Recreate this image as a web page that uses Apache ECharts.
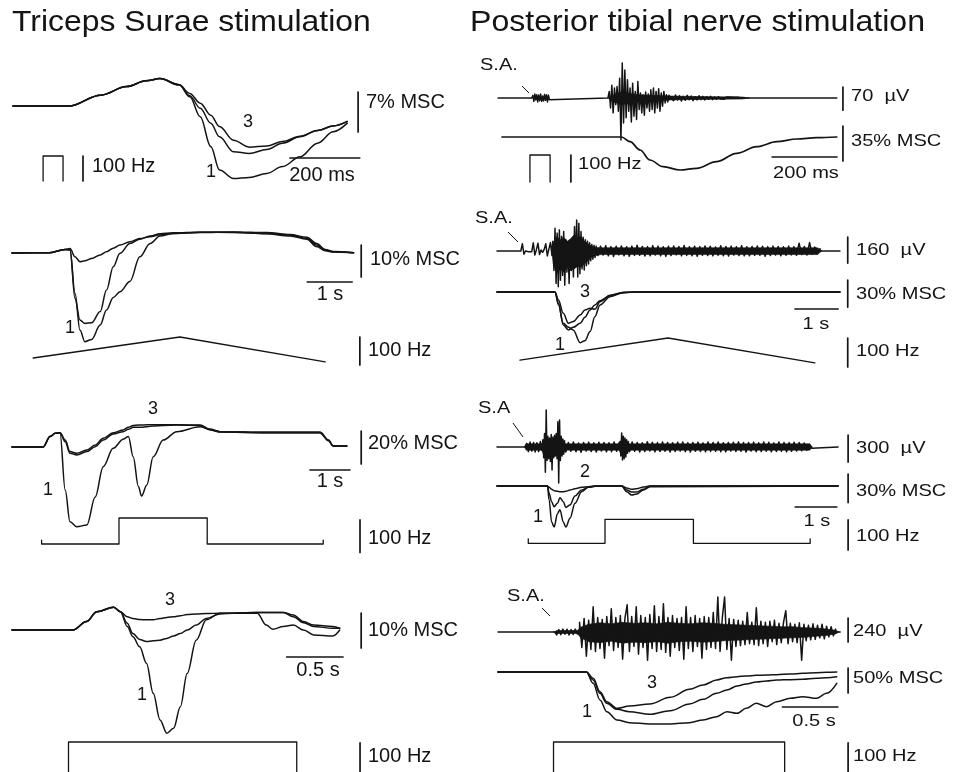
<!DOCTYPE html>
<html><head><meta charset="utf-8">
<script src="https://cdn.jsdelivr.net/npm/echarts/dist/echarts.min.js"></script>
<style>html,body{margin:0;padding:0;background:#fff}#c{width:954px;height:772px}</style>
</head><body><div id="c"></div><script>
// ===================== DATA =====================
// Panel A1 (Triceps surae, brief train) — time ms, force %MSC
const a1T  = [0,160,250,325,380,420,475,505,535,565,590,630,675,725,770,820,870,915,955];
const a1F1 = [0,0,1.9,3.4,4.4,4.8,3.7,1.6,-1.9,-7.1,-11.2,-12.7,-12.5,-11.8,-10.6,-8.9,-6.5,-4.5,-3.0];
const a1F2 = [0,0,1.9,3.4,4.4,4.8,3.7,1.8,-0.4,-3.0,-5.4,-8.0,-8.3,-7.6,-6.5,-5.4,-4.3,-3.5,-2.7];
const a1F3 = [0,0,1.9,3.4,4.4,4.8,3.7,2.2,0.5,-1.6,-3.6,-6.0,-7.2,-7.0,-6.2,-5.3,-4.3,-3.5,-2.7];
const a1StimT = [86,86,143,143];
const a1StimHz = [0,100,100,0];
// Panel A2 (ramp) — time s
const a2T  = [0,0.84,1.18,1.29,1.40,1.51,1.62,1.77,1.96,2.10,2.25,2.40,2.62,2.84,3.07,3.29,3.58,4.18,4.92,5.66,6.18,6.55,6.77,6.96,7.14,7.59];
const a2F1 = [0,0.1,1.1,0.9,-12.6,-24.1,-27.7,-27.0,-22.5,-17.8,-13.9,-12.1,-8.9,-1.2,3.0,5.3,6.1,6.5,6.4,6.1,5.6,4.6,2.5,0.9,0.4,0.1];
const a2F2 = [0,0.1,1.1,1.0,-14.2,-20.9,-22.0,-21.8,-18.3,-11.6,-4.3,-0.1,3.0,4.3,5.3,6.0,6.3,6.5,6.5,6.0,5.3,4.3,2.0,0.7,0.3,0.1];
const a2F3 = [0,0.1,1.1,1.4,-1.2,-2.7,-2.4,-1.7,-0.6,0.4,1.5,2.5,3.5,4.5,5.1,5.7,6.1,6.4,6.6,6.4,5.8,4.9,3.0,1.1,0.5,0.1];
const a2StimT = [0.47,3.73,6.96];
const a2StimHz = [25,100,11];
// Panel A3 (step)
const a3T  = [0,0.78,0.95,1.08,1.20,1.33,1.45,1.62,1.87,2.08,2.28,2.53,2.78,2.91,3.03,3.16,3.24,3.37,3.53,3.78,4.12,4.70,4.95,5.20,6.37,7.70,7.91,8.03,8.37];
const a3F1 = [0,0,6.3,8.3,8.7,-26.1,-45.3,-48.3,-47.3,-30.3,-11.9,-0.8,4.7,6.3,-5.9,-24.0,-29.7,-23.0,-5.9,4.2,9.3,12.3,10.7,9.3,8.9,8.9,4.2,0.6,0.6];
const a3F2 = [0,0,6.3,8.3,8.7,3.2,-3.8,-4.8,-2.8,0.2,4.2,7.9,9.3,10.7,11.9,11.9,11.9,12.3,12.7,13.1,13.3,13.1,10.3,9.1,8.5,8.5,3.8,0.6,0.6];
const a3F3 = [0,0,6.3,8.3,8.7,4.2,-2.8,-3.8,-1.8,1.2,5.3,8.7,10.3,11.9,13.1,13.3,13.3,13.5,13.5,13.5,13.5,13.3,10.7,9.3,8.9,8.9,4.2,0.6,0.6];
const a3StimT = [0.74,0.74,2.675,2.675,4.88,4.88,7.78,7.78];
const a3StimHz = [32,20,20,100,100,20,20,32];
// Panel A4 (constant train)
const a4T  = [0,0.54,0.66,0.75,0.90,0.96,1.02,1.07,1.13,1.19,1.25,1.31,1.37,1.43,1.49,1.55,1.63,1.72,1.84,1.96,2.17,2.25,2.31,2.40,2.49,2.58,2.67,2.84,2.90];
const a4F1 = [0,0,2.4,5.2,6.5,5.2,1.0,-1.9,-4.8,-9.5,-18.1,-25.7,-29.5,-28.1,-21.9,-12.4,-2.9,2.9,4.8,4.8,4.8,1.4,0.2,1.0,1.4,0,-1.4,-1.7,0];
const a4F2 = [0,0,2.4,5.2,6.5,5.2,1.9,-1.0,-2.7,-3.3,-3.1,-2.9,-2.4,-1.7,-1.0,0,1.4,3.3,4.6,4.8,5.0,5.0,5.0,5.0,3.8,2.1,1.0,0.5,0.5];
const a4F3 = [0,0,2.4,5.2,6.5,5.2,3.8,3.3,3.0,2.9,2.9,3.3,3.6,3.8,4.1,4.4,4.6,4.7,4.8,4.8,5.0,5.0,5.0,5.0,4.3,2.4,1.4,1.0,0.5];
const a4StimT = [0.50,0.50,2.52,2.52];
const a4StimHz = [0,100,100,0];

// Panel B1 (posterior tibial nerve, brief train) — ms, µV
const b1T = [0,368,394,425,455,496,548,599,660,722,784,845,907,968,1030];
const b1F = [0,0,-4.7,-13,-23,-29.7,-33,-31.3,-24.7,-16.3,-9.7,-4.7,-2,-0.7,0];
const b1StimT = [86,86,148,148];
const b1StimHz = [0,100,100,0];
const b1Sa = [0,8,-10,12,-6,10,-12,9,-8,12,-10,6,-9,11,-7,10,-12,8,-5,0];
const b1Burst = [0,20,-30,39,-45,30,-20,35,-40,60,-127,106,-76,85,-60,55,-40,30,-73,45,-55,20,-65,50,-35,15,-45,10,-52,18,-30,12,-40,25,-35,30,-45,20,-30,28,-40,15,-25,20,-15,10,-12,8,0];
const b1Tail = [6,-8,9,-6,7,-9,5,-7,8,-5,6,-8,4,-6,7,-5,5,-6,4,-4,5,-5,3,-4,4,-3,3,-4,3,-2,3,-3,2,-2,2,-1,0];
const b1EnvT  = [326,345,365,385,420,460,518,560,650,740,760];
const b1EnvUp = [0,10,18,15,10,8,6,5,4,3,0];
const b1EnvLo = [0,-12,-20,-18,-12,-10,-6,-5,-4,-3,0];
// Panel B2 (ramp) — s
const b2T  = [0,1.34,1.42,1.53,1.65,1.76,1.92,2.03,2.15,2.26,2.38,2.61,2.92,3.23,7.92];
const b2F1 = [0,0,-12.6,-36.7,-42.2,-39.3,-34.8,-28.1,-20,-14.4,-9.6,-4.1,-0.7,0,0];
const b2F2 = [0,0,-14.4,-34.8,-39.3,-42.2,-56.3,-54.1,-44,-27.4,-14.4,-5.2,-0.7,0,0];
const b2F3 = [0,0,-8.9,-23.7,-34.8,-32.9,-25.6,-20,-18.1,-19.3,-10.7,-3.7,-0.3,0,0];
const b2StimT = [0.53,3.95,7.34];
const b2StimHz = [24,100,14];
const b2Pre = [0,45,-20,0,5,-5,3,-4,50,-25,8,48,-22,6,-8,10,45,-30,12,52,-28];
const b2Burst = [60,-120,140,-200,110,-220,130,-180,90,-150,120,-210,70,-130,50,-200,60,-120,80,-160,150,-90,190,-160,170,-140,120,-110,85,-117,70,-90,60,-80,50,-60,40,-50,35,-40,30];
const b2Tonic = [-28,30,-25,33,-30,27,-34,29,-24,31,-29,26,-32,30,-27,35,-26,28,-31,27,-29,33,-25,30,-30,26,-33,29,-28,31,-24,28,-30,34,-27,26,-29,30,-32,27,-26,31,-28,29,-30,25,-27,32,-29,28,-31,30,-25,27,-28,33,-30,26,-29,28,-27,31,-26,29,-32,27,-28,30,-25,28,-29,26,-27,30,-24,27,-26,48,-22,28,-25,52,-20,24,-18,15];
const b2EnvT  = [1.27,1.30,1.38,1.46,1.54,1.62,1.70,1.78,1.86,1.94,2.02,2.10,2.18,2.29,2.40,7.40,7.50];
const b2EnvUp = [0,50,90,70,85,60,75,100,80,90,60,45,30,22,20,20,0];
const b2EnvLo = [0,-80,-140,-110,-130,-100,-120,-110,-95,-100,-80,-60,-40,-28,-22,-22,0];
// Panel B3 (step)
const b3T  = [0,1.21,1.25,1.31,1.37,1.45,1.51,1.59,1.65,1.75,1.87,2.03,2.19,2.39,2.99,3.11,3.23,3.35,3.51,3.67,8.18];
const b3F1 = [0,0,-14.7,-37.9,-43.2,-29.1,-24.9,-37.9,-43.2,-34.0,-18.2,-6.0,-1.4,0,0,-6.0,-9.5,-8.4,-4.2,-0.7,0];
const b3F2 = [0,0,-7.7,-16.5,-21.8,-18.2,-12.3,-16.5,-22.5,-20,-10.5,-4.2,-1.1,0,0,-4.2,-6.3,-6.3,-3.5,0,0];
const b3F3 = [0,0,-1.4,-3.5,-4.9,-5.6,-6.0,-6.0,-5.6,-4.2,-2.8,-1.4,-0.7,0,0,-2.1,-3.5,-2.8,-1.1,0,0];
const b3StimT = [0.75,0.75,2.59,2.59,4.71,4.71,7.51,7.51];
const b3StimHz = [35,20,20,100,100,20,20,35];
const b3Tonic1 = [0,40,-50,55,-45,50,-55,48,-50,60,-40];
const b3Burst1 = [80,-120,150,-280,410,-150,120,-130,100,-160,140,-255,110,-120,130,-100,150,-130,280,-400,300,-150,120,-100,90,-80,70];
const b3Tonic2 = [-55,50,-48,56,-52,45,-58,50,-46,54,-50,48,-56,52,-45,50,-54,47,-52,55,-48,50];
const b3Burst2 = [60,-100,155,-145,120,-130,100,-110,80,-70,60];
const b3Tonic3 = [-52,55,-48,50,-56,47,-50,58,-45,52,-54,49,-51,56,-47,50,-55,48,-50,53,-46,55,-52,47,-57,50,-48,54,-50,46,-53,56,-49,51,-47,55,-52,48,-54,50,-45,53,-50,57,-48,49,-55,51,-46,54,-52,47,-50,56,-48,52,-53,46,-51,55,-47,50,-54,49,-48,53,-45,50,-42,45,-35,30,-15];
const b3EnvT  = [0.66,0.70,1.08,1.12,1.25,1.40,1.55,1.65,2.93,2.97,3.05,3.13,3.18,7.50,7.56];
const b3EnvUp = [0,35,35,80,95,85,80,35,35,70,85,55,35,35,0];
const b3EnvLo = [0,-35,-35,-90,-110,-100,-90,-35,-35,-80,-95,-60,-35,-35,0];
// Panel B4 (constant train)
const b4T  = [0,0.78,0.84,0.90,0.96,1.05,1.16,1.34,1.52,1.69,1.81,1.93,2.02,2.11,2.19,2.28,2.37,2.46,2.58,2.69,2.81,2.90,2.99];
const b4F1 = [0,0,-22.7,-56,-79.3,-96,-101.3,-104,-104,-101.3,-96,-89.3,-79.3,-82.7,-72.7,-62.7,-69.3,-59.3,-52.7,-49.3,-52.7,-42.7,-22.7];
const b4F2 = [0,0,-16,-42.7,-62.7,-74.7,-79.3,-84.7,-77.3,-64,-54.7,-42.7,-36,-28,-24,-20,-18,-16,-15.3,-14.7,-12.7,-11.3,-9.3];
const b4F3 = [0,0,-12.7,-39.3,-59.3,-72.7,-68,-64,-50.7,-34.7,-26,-16,-11.3,-9.3,-8,-6.7,-6,-5.3,-4,-2.7,-1.3,-0.7,0];
const b4StimT = [0.49,0.49,2.53,2.53];
const b4StimHz = [0,100,100,0];
const b4Tonic = [20,-30,25,-28,30,-22,28,-30,25,-26,30,-20];
const b4Burst = [100,-160,140,-250,120,-180,260, -200,150,-170,130,-270,160,-140, 240,-190,150,-160,170,-280,140,
  280,-200,160,-150,260,-230,170, -160,150,-290,180,-170,270,-200, 160,-180,290,-210,150,-250,170,
  -160,140,-190,150,-280,260,-170, 150,-200,170,-150,140,-270,160, -180,150,-160,200,-170,360,-200,
  150,360,-180,140,-290,130,-150, 120,-140,110,-130,200,-120,100, -130,250,-140,110,-120,100,-150,
  110,-100,120,-130,90,-110,100, 220,-120,90,-100,80,-110,95, -290,80,-90,70,-80,85,-75,
  70,-60,80,-70,60,-50,55, -40,30];
const b4EnvT  = [0.49,0.52,0.70,0.73,0.80,0.90,1.00,1.10,1.20,1.30,1.40,1.50,1.60,1.70,1.80,1.90,2.00,2.10,2.20,2.30,2.40,2.50,2.60,2.70,2.80,2.90,2.98,3.01];
const b4EnvUp = [0,15,15,50,80,95,85,100,90,95,85,100,90,85,95,90,80,75,70,65,60,55,55,45,40,30,18,0];
const b4EnvLo = [0,-15,-15,-60,-100,-110,-95,-115,-105,-110,-100,-115,-100,-95,-105,-100,-90,-85,-80,-75,-70,-65,-60,-55,-45,-35,-20,0];

// ===================== BUILD =====================
const INK = '#141414';
const FONT = '"Liberation Sans", Arial, Helvetica, sans-serif';
const grids = [], xAxes = [], yAxes = [], series = [], graphics = [];

function addGrid(x0, y0, sx, sy, L, T, R, B) {
  const i = grids.length;
  grids.push({left: L, top: T, width: R - L, height: B - T, show: false, containLabel: false});
  xAxes.push({type: 'value', gridIndex: i, min: (L - x0) / sx, max: (R - x0) / sx, show: false});
  yAxes.push({type: 'value', gridIndex: i, min: (y0 - B) / sy, max: (y0 - T) / sy, show: false});
  return i;
}
function line(g, data, width, smooth, fill) {
  const s = {type: 'line', xAxisIndex: g, yAxisIndex: g, data: data, symbol: 'none',
    smooth: smooth || false, smoothMonotone: smooth ? 'x' : undefined,
    lineStyle: {color: INK, width: width, join: 'round', cap: 'round'}, silent: true, animation: false, z: 2};
  if (fill) s.areaStyle = {color: INK, opacity: 1};
  series.push(s);
}
function zip(t, v) { return t.map((x, i) => [x, v[i]]); }
function traces(g, t, list) { list.forEach(v => line(g, zip(t, v), 1.5, 0.35)); }
function vbar(g, x, y1, y2) { line(g, [[x, y1], [x, y2]], 1.7); }
function hbar(g, y, x1, x2) { line(g, [[x1, y], [x2, y]], 1.6); }
function emg(g, tStart, tEnd, segs, envT, envUp, envLo) {
  line(g, zip(envT, envUp), 0.6, false, true);
  line(g, zip(envT, envLo), 0.6, false, true);
  const d = [[tStart, 0]];
  segs.forEach(s => {
    const n = s.v.length;
    d.push([s.t0, 0]);
    s.v.forEach((v, i) => d.push([s.t0 + (s.t1 - s.t0) * i / (n - 1), v]));
    d.push([s.t1, 0]);
  });
  d.push([tEnd, 0]);
  line(g, d, 1.5, false);
}
function txt(x, y, s, size, sx, align) {
  graphics.push({type: 'text', x: x, y: y, scaleX: sx || 1, silent: true, z: 10,
    style: {text: s, fontSize: size, fontFamily: FONT, fill: INK,
      textAlign: align || 'left', textVerticalAlign: 'middle', align: align || 'left', verticalAlign: 'middle'}});
}
function seg(x1, y1, x2, y2) {
  graphics.push({type: 'line', silent: true, shape: {x1, y1, x2, y2}, style: {stroke: INK, lineWidth: 1}});
}

// ---- Left column ----
const LL = 0, LR = 470, RL = 470, RR = 954;
// A1
let g = addGrid(13, 106, 0.35, 40 / 7, LL, 40, LR, 200);
traces(g, a1T, [a1F1, a1F2, a1F3]);
vbar(g, 986, 2.45, -4.55); hbar(g, -9.1, 791, 991);
g = addGrid(13, 181, 0.35, 0.25, LL, 40, LR, 200);
line(g, zip(a1StimT, a1StimHz), 1.3); vbar(g, 200, 0, 100);
// A2
g = addGrid(12, 253, 45, 3.2, LL, 200, LR, 385);
traces(g, a2T, [a2F1, a2F2, a2F3]);
vbar(g, 7.76, 2.5, -7.5); hbar(g, -9.06, 6.56, 7.56);
g = addGrid(12, 365, 45, 0.28, LL, 200, LR, 385);
line(g, zip(a2StimT, a2StimHz), 1.3); vbar(g, 7.73, 0, 100);
// A3
g = addGrid(12, 447, 40, 1.65, LL, 385, LR, 570);
traces(g, a3T, [a3F1, a3F2, a3F3]);
vbar(g, 8.73, 9.7, -10.3); hbar(g, -13.9, 7.45, 8.45);
g = addGrid(12, 550.5, 40, 0.325, LL, 385, LR, 570);
line(g, zip(a3StimT, a3StimHz), 1.3); vbar(g, 8.7, -6, 94);
// A4
g = addGrid(12, 630, 113, 3.5, LL, 570, LR, 772);
traces(g, a4T, [a4F1, a4F2, a4F3]);
vbar(g, 3.09, 4.86, -5.14); hbar(g, -7.7, 2.43, 2.93);
g = addGrid(12, 790, 113, 0.48, LL, 570, LR, 772);
line(g, zip(a4StimT, a4StimHz), 1.3); vbar(g, 3.08, 0, 98);

// ---- Right column ----
// B1
g = addGrid(502, 98, 0.325, 0.33, RL, 40, RR, 200);
emg(g, -12, 1030, [{t0: 92, t1: 149, v: b1Sa}, {t0: 326, t1: 518, v: b1Burst}, {t0: 522, t1: 738, v: b1Tail}], b1EnvT, b1EnvUp, b1EnvLo);
vbar(g, 1049, 33, -37);
g = addGrid(502, 137, 0.325, 1, RL, 40, RR, 200);
line(g, zip(b1T, b1F), 1.7, 0.35);
vbar(g, 1049, 11, -24); hbar(g, -20, 831, 1031);
g = addGrid(502, 182, 0.325, 0.27, RL, 40, RR, 200);
line(g, zip(b1StimT, b1StimHz), 1.3); vbar(g, 212, 0, 100);
// B2
g = addGrid(497, 251, 43.3, 0.1625, RL, 200, RR, 385);
emg(g, 0, 7.92, [{t0: 0.55, t1: 1.27, v: b2Pre}, {t0: 1.29, t1: 2.29, v: b2Burst}, {t0: 2.33, t1: 7.46, v: b2Tonic}], b2EnvT, b2EnvUp, b2EnvLo);
vbar(g, 8.1, 86, -74);
g = addGrid(497, 292, 43.3, 0.9, RL, 200, RR, 385);
traces(g, b2T, [b2F1, b2F2, b2F3]);
vbar(g, 8.1, 13.3, -16.7); hbar(g, -18.9, 6.88, 7.88);
g = addGrid(497, 367, 43.3, 0.29, RL, 200, RR, 385);
line(g, zip(b2StimT, b2StimHz), 1.3); vbar(g, 8.1, 0, 100);
// B3
g = addGrid(497, 447, 41.7, 0.09, RL, 385, RR, 570);
emg(g, 0, 8.18, [{t0: 0.67, t1: 1.08, v: b3Tonic1}, {t0: 1.10, t1: 1.62, v: b3Burst1}, {t0: 1.65, t1: 2.93, v: b3Tonic2}, {t0: 2.95, t1: 3.15, v: b3Burst2}, {t0: 3.18, t1: 7.55, v: b3Tonic3}], b3EnvT, b3EnvUp, b3EnvLo);
vbar(g, 8.42, 133, -167);
g = addGrid(497, 486, 41.7, 0.95, RL, 385, RR, 570);
traces(g, b3T, [b3F1, b3F2, b3F3]);
vbar(g, 8.42, 12.6, -17.4); hbar(g, -22.1, 7.15, 8.15);
g = addGrid(497, 549.3, 41.7, 0.3, RL, 385, RR, 570);
line(g, zip(b3StimT, b3StimHz), 1.3); vbar(g, 8.42, -2, 98);
// B4
g = addGrid(498, 632, 113.3, 0.097, RL, 570, RR, 772);
emg(g, 0, 3.02, [{t0: 0.50, t1: 0.70, v: b4Tonic}, {t0: 0.72, t1: 2.98, v: b4Burst}], b4EnvT, b4EnvUp, b4EnvLo);
vbar(g, 3.09, 144, -103);
g = addGrid(498, 672, 113.3, 0.5, RL, 570, RR, 772);
traces(g, b4T, [b4F1, b4F2, b4F3]);
vbar(g, 3.09, 8, -42); hbar(g, -70, 2.51, 3.0);
g = addGrid(498, 790, 113.3, 0.48, RL, 570, RR, 772);
line(g, zip(b4StimT, b4StimHz), 1.3); vbar(g, 3.09, 0, 98);

// ---- Text ----
txt(12, 23, 'Triceps Surae stimulation', 29, 1.1);
txt(470, 23, 'Posterior tibial nerve stimulation', 29, 1.107);
// left labels
const LS = 20;
txt(366, 102, '7% MSC', LS); txt(92, 166, '100 Hz', LS); txt(322, 175, '200 ms', LS, 1, 'center');
txt(248, 122, '3', 18, 1, 'center'); txt(211, 172, '1', 18, 1, 'center');
txt(370, 259, '10% MSC', LS); txt(330, 294, '1 s', LS, 1, 'center'); txt(70, 328, '1', 18, 1, 'center'); txt(368, 350, '100 Hz', LS);
txt(153, 409, '3', 18, 1, 'center'); txt(368, 443, '20% MSC', LS); txt(330, 481, '1 s', LS, 1, 'center'); txt(48, 490, '1', 18, 1, 'center'); txt(368, 538, '100 Hz', LS);
txt(170, 600, '3', 18, 1, 'center'); txt(368, 630, '10% MSC', LS); txt(318, 670, '0.5 s', LS, 1, 'center'); txt(142, 695, '1', 18, 1, 'center'); txt(368, 756, '100 Hz', LS);
// right labels
const RS = 17, RX = 1.18;
txt(480, 66, 'S.A.', 16, 1.25); seg(522, 86, 529, 93);
txt(851, 96, '70  \u00b5V', RS, RX); txt(851, 141, '35% MSC', RS, RX); txt(578, 164, '100 Hz', RS, RX); txt(806, 173, '200 ms', RS, RX, 'center');
txt(475, 219, 'S.A.', 16, 1.25); seg(508, 232, 518, 242);
txt(856, 250, '160  \u00b5V', RS, RX); txt(585, 292, '3', 18, 1, 'center'); txt(856, 294, '30% MSC', RS, RX);
txt(816, 324, '1 s', RS, RX, 'center'); txt(560, 345, '1', 18, 1, 'center'); txt(856, 351, '100 Hz', RS, RX);
txt(478, 409, 'S.A', 16, 1.25); seg(513, 423, 523, 437);
txt(856, 448, '300  \u00b5V', RS, RX); txt(585, 472, '2', 18, 1, 'center'); txt(856, 491, '30% MSC', RS, RX);
txt(538, 517, '1', 18, 1, 'center'); txt(817, 521, '1 s', RS, RX, 'center'); txt(856, 536, '100 Hz', RS, RX);
txt(507, 597, 'S.A.', 16, 1.25); seg(542, 608, 550, 616);
txt(853, 631, '240  \u00b5V', RS, RX); txt(652, 683, '3', 18, 1, 'center'); txt(853, 678, '50% MSC', RS, RX);
txt(587, 712, '1', 18, 1, 'center'); txt(814, 721, '0.5 s', RS, RX, 'center'); txt(853, 756, '100 Hz', RS, RX);

const chart = echarts.init(document.getElementById('c'), null, {renderer: 'canvas'});
chart.setOption({
  animation: false, backgroundColor: '#ffffff',
  grid: grids, xAxis: xAxes, yAxis: yAxes, series: series, graphic: {elements: graphics}
});
</script></body></html>
